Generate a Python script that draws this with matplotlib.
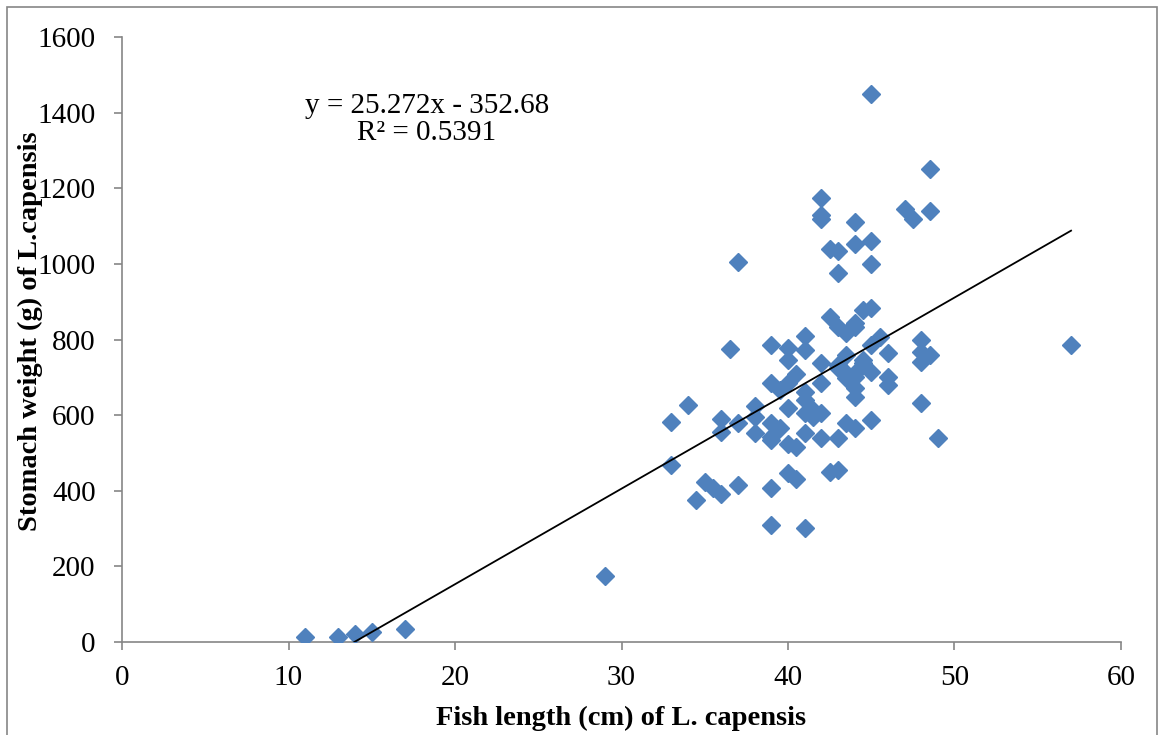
import matplotlib
matplotlib.use("Agg")
import matplotlib.pyplot as plt
from matplotlib.patches import Rectangle
import numpy as np

plt.rcParams['font.family'] = ['Liberation Serif', 'DejaVu Serif']

# Fish length (cm)
length = [11, 13, 14, 15, 17, 29,
          33, 33, 34, 34.5, 35, 35.5, 36, 36, 36, 36.5, 37, 37, 37,
          38, 38, 38, 39, 39, 39.5, 39, 39.5, 39, 39, 39, 39,
          40, 40, 40, 40, 40, 40, 40.5, 40.5, 40.5,
          41, 41, 41, 41, 41, 41, 41, 41.5, 41.5,
          42, 42, 42, 42, 42, 42, 42, 42.5, 42.5, 42.5,
          43, 43, 43, 43, 43, 43, 43, 43.5, 43.5, 43.5, 43.5, 43.5,
          44, 44, 44, 44, 44, 44, 44, 44, 44, 44.5, 44.5, 44.5,
          45, 45, 45, 45, 45, 45, 45, 45.5,
          46, 46, 46, 47, 47.5, 48, 48, 48, 48, 48.5, 48.5, 48.5, 49, 57]
# Stomach weight (g)
weight = [14, 14, 20, 27, 35, 175,
          468, 581, 628, 376, 424, 407, 392, 590, 556, 775, 1005, 415, 580,
          624, 596, 552, 786, 684, 667, 579, 567, 543, 534, 407, 310,
          777, 746, 684, 618, 524, 446, 709, 517, 432,
          808, 772, 662, 640, 605, 552, 301, 596, 614,
          1175, 1130, 1120, 737, 684, 605, 539, 860, 1040, 450,
          1035, 975, 834, 733, 724, 539, 455, 816, 759, 711, 698, 579,
          1110, 1053, 843, 834, 711, 702, 671, 649, 565, 878, 746, 737,
          1450, 1060, 1000, 882, 785, 715, 587, 807,
          763, 702, 680, 1145, 1120, 799, 768, 741, 631, 1250, 1140, 759, 539, 786]

slope = 25.272
intercept = -352.68
r2 = 0.5391

x_ticks = [0, 10, 20, 30, 40, 50, 60]
y_ticks = [0, 200, 400, 600, 800, 1000, 1200, 1400, 1600]

fig = plt.figure(figsize=(11.65, 7.35), dpi=100)
ax = fig.add_axes([122/1165, 1-642/735, (1121-122)/1165, (642-37)/735])

ax.plot(length, weight, linestyle='none', marker='D', markersize=9.4,
        color='#4F81BD', markeredgecolor='#4F81BD', zorder=3)

xl = np.array([min(length), max(length)])
ax.plot(xl, slope*xl + intercept, color='black', linewidth=1.3, zorder=4)

ax.set_xlim(0, 60)
ax.set_ylim(0, 1600)
ax.set_xticks(x_ticks)
ax.set_yticks(y_ticks)
ax.tick_params(axis='both', labelsize=21, direction='out', length=6,
               color='#868686', width=1.2)
ax.tick_params(axis='y', pad=13)
ax.tick_params(axis='x', pad=10.5)
for s in ['top', 'right']:
    ax.spines[s].set_visible(False)
for s in ['left', 'bottom']:
    ax.spines[s].set_color('#868686')
    ax.spines[s].set_linewidth(1.2)

ax.set_xlabel('Fish length (cm) of L. capensis', fontsize=20.5, fontweight='bold', va='center')
ax.set_ylabel('Stomach weight (g) of L.capensis', fontsize=20.5, fontweight='bold', va='center')
ax.xaxis.set_label_coords(0.5, -0.1256)
ax.yaxis.set_label_coords(-0.0921, 0.514)

ax.text(18.3, 1382, 'y = 25.272x - 352.68\nR² = 0.5391', fontsize=21,
        ha='center', va='center', multialignment='center', linespacing=1.05)

fig.patches.append(Rectangle((7/1165, -0.01), (1157-7)/1165, 1-7/735+0.01,
                             transform=fig.transFigure, fill=False,
                             edgecolor='#868686', linewidth=1.2))

fig.savefig('out.png', dpi=100)
